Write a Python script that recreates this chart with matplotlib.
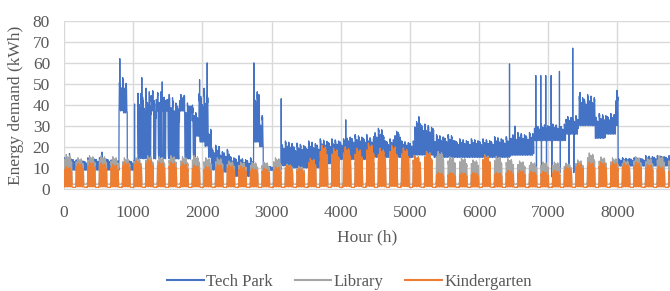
import numpy as np
import matplotlib
matplotlib.use("Agg")
import matplotlib.pyplot as plt

# ---------------- data ----------------
n_hours = 8760
# Tech Park: piecewise segments (start hour, night/low level, day/high level)
tp_start = [0, 168, 336, 504, 672, 795, 860, 915, 1070, 1180, 1263, 1297, 1335, 1359,
            1417, 1441, 1480, 1504, 1600, 1671, 1744, 1830, 1855, 1900, 1950, 2040,
            2090, 2130, 2250, 2400, 2560, 2740, 2830, 2880, 3140, 3300, 3500, 3700,
            3905, 4095, 4380, 4480, 4625, 4770, 4870, 5060, 5200, 5350, 5635, 5920,
            6210, 6455, 6790, 7250, 7435, 7680, 7825, 7970, 8010, 8400]
tp_low = [9, 9, 9, 9, 9, 37, 36, 9, 14, 14, 37, 14, 37, 14,
          37, 14, 37, 14, 14, 37, 14, 36, 15, 25, 22, 20,
          15, 9, 8, 6, 6, 22, 20, 9, 11, 10, 10, 12,
          14, 14, 15, 15, 15, 15, 15, 16, 16, 15, 15, 15,
          15, 16, 23, 26, 30, 24, 26, 30, 11, 11]
tp_high = [15, 14, 15, 15, 14, 53, 51, 14, 49, 48, 48, 47, 46, 48,
           46, 47, 45, 45, 44, 45, 44, 41, 40, 37, 48, 46,
           30, 21, 19, 16, 15, 49, 35, 11, 23, 22, 23, 24,
           24, 26, 25, 29, 24, 29, 23, 33, 31, 26, 24, 24,
           25, 27, 31, 35, 45, 36, 36, 46, 15, 16]
# isolated hourly peaks / dips of the Tech Park
tp_spike_hour = [80, 550, 807, 1020, 1125, 1420, 1960, 2070, 2745, 3140, 4073, 5130,
                 6440, 6520, 6820, 6892, 6964, 7042, 7162, 7354, 7460, 7995,
                 6830, 6902, 6975, 7052, 7175, 7300, 7370]
tp_spike_val = [17, 17.7, 62, 40.5, 53, 51, 52, 60, 60, 43, 33, 34.5,
                59.5, 30, 54, 54, 54, 54, 56, 67, 46, 47,
                6, 6, 6, 6, 8, 8, 8]

# Library / Kindergarten: weekday peak of each week of the year (53 weeks)
lib_peak = [16.5, 15, 16, 16, 15.5, 15, 15, 16, 15.5, 16, 15.5, 16, 15, 15, 13.5, 13, 13,
            13, 15, 12, 11, 12,
            15, 17, 15, 15, 16, 15, 16, 16, 16, 18,
            18, 15.5, 15, 14, 16.4, 15.7, 14.6, 13.5, 13, 13, 13,
            12.5, 14, 17.3, 15.4, 15, 14, 15.5, 15, 16, 15.5]
kg_peak = [10.8, 12.5, 13, 12.5, 11.9, 13, 13.6, 14.5, 13, 13, 12.5, 11.6, 11, 12, 11.5, 11, 10,
           10, 10.8, 11.6, 10, 14.8,
           21, 19.5, 20.2, 19.5, 21.9, 19.5, 21, 19.7, 16, 17.7,
           8, 8, 8, 8, 16, 8, 9, 9, 8.5, 8.5, 9,
           10.6, 12.5, 13, 13, 13, 12.4, 13, 12, 11, 10]
lib_base = 2.5
kg_base = 1.0

# typical hourly occupancy shape (0 = night level, 1 = peak)
day_profile = [0.05, 0.03, 0.02, 0.02, 0.03, 0.1, 0.35, 0.7, 0.9, 1.0, 0.95, 0.9,
               0.85, 0.9, 0.95, 0.9, 0.8, 0.6, 0.4, 0.25, 0.15, 0.1, 0.08, 0.06]
# relative level of each weekday (Mon..Sun)
building_week = [0.85, 1.0, 0.92, 0.96, 0.78, 0.0, 0.0]
tech_week = [1.0, 0.8, 0.95, 0.75, 0.9, 0.85, 0.7]

x_ticks = [0, 1000, 2000, 3000, 4000, 5000, 6000, 7000, 8000]
y_ticks = [0, 10, 20, 30, 40, 50, 60, 70, 80]
series_names = ["Tech Park", "Library", "Kindergarten"]

# ---------------- build hourly series ----------------
hours = np.arange(n_hours)
hod = hours % 24
dow = (hours // 24) % 7
wk = hours // 168
prof = np.array(day_profile)[hod]
bweek = np.array(building_week)[dow]
tweek = np.array(tech_week)[dow]

seg = np.searchsorted(np.array(tp_start), hours, side="right") - 1
lo = np.array(tp_low, float)[seg]
hi = np.array(tp_high, float)[seg]
tech = lo + (hi - lo) * prof * tweek
tech[np.array(tp_spike_hour)] = np.array(tp_spike_val)

lib = lib_base + (np.array(lib_peak)[wk] - lib_base) * prof * bweek
kg = kg_base + (np.array(kg_peak)[wk] - kg_base) * prof * bweek

# ---------------- plot ----------------
plt.rcParams["font.family"] = ["Liberation Serif", "DejaVu Serif"]
txt = "#595959"
fig = plt.figure(figsize=(6.7, 2.91), dpi=100)
ax = fig.add_axes([0.0955, 0.349, 0.9045, 0.58])

ax.plot(hours, tech, color="#4472C4", lw=0.9, label=series_names[0], zorder=3)
ax.plot(hours, lib, color="#A5A5A5", lw=0.9, label=series_names[1], zorder=4)
ax.plot(hours, kg, color="#ED7D31", lw=0.9, label=series_names[2], zorder=5)

ax.set_xlim(0, n_hours)
ax.set_ylim(0, 80)
ax.set_xticks(x_ticks)
ax.set_yticks(y_ticks)
ax.grid(True, color="#D9D9D9", lw=1.0, zorder=0)
ax.set_axisbelow(True)
for s in ["top", "right", "left"]:
    ax.spines[s].set_visible(False)
ax.spines["bottom"].set_color("#D9D9D9")
ax.tick_params(axis="both", length=0, labelsize=12.5, colors=txt)
ax.tick_params(axis="x", pad=11)
ax.tick_params(axis="y", pad=10)
ax.set_xlabel("Hour (h)", fontsize=12.5, color=txt, labelpad=6)
ax.set_ylabel("Energy demand (kWh)", fontsize=12.5, color=txt, labelpad=6)

leg = fig.legend(loc="center", bbox_to_anchor=(0.522, 0.031), ncol=3, frameon=False,
                 fontsize=12, handlelength=2.2, handletextpad=0.15, columnspacing=1.3,
                 labelcolor=txt)
for l in leg.get_lines():
    l.set_linewidth(1.5)

fig.savefig("out.png", dpi=100)
